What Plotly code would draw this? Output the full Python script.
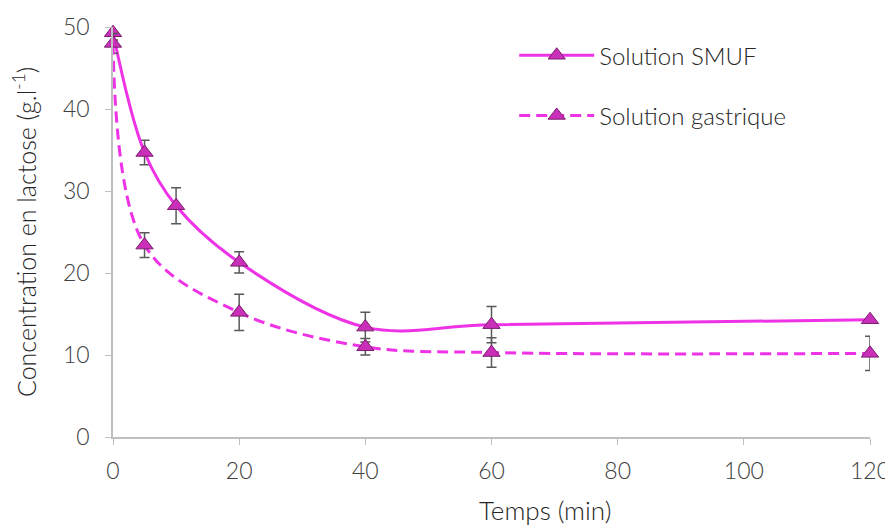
import plotly.graph_objects as go

time_min = [0, 5, 10, 20, 40, 60, 120]
smuf = [49.3, 34.7, 28.2, 21.3, 13.4, 13.7, 14.3]
smuf_err = [0.9, 1.5, 2.2, 1.3, 1.8, 2.2, 0.0]
gastric = [48.0, 23.4, None, 15.2, 11.0, 10.3, 10.2]
gastric_err = [1.2, 1.5, 0, 2.2, 1.0, 1.8, 2.1]

g_t = [t for t, v in zip(time_min, gastric) if v is not None]
g_v = [v for v in gastric if v is not None]
g_e = [e for e, v in zip(gastric_err, gastric) if v is not None]

x_title = "Temps (min)"
y_title = "Concentration en lactose (g.l<sup>-1</sup>)"

line_col = "#EE33E6"
mk_fill = "#C92FB9"
mk_line = "#7A1F6E"
err_col = "#595959"
font_fam = "Lato, 'Open Sans', sans-serif"

fig = go.Figure()
fig.add_trace(go.Scatter(
    x=time_min, y=smuf, name="Solution SMUF", mode="lines+markers",
    line=dict(color=line_col, width=3, shape="spline", smoothing=1.0),
    marker=dict(symbol="triangle-up", size=15, color=mk_fill,
                line=dict(color=mk_line, width=1)),
    error_y=dict(type="data", array=smuf_err, color=err_col, thickness=1.5, width=5),
    cliponaxis=False, legendgroup="a",
))
fig.add_trace(go.Scatter(
    x=g_t, y=g_v, name="Solution gastrique", mode="lines+markers",
    line=dict(color=line_col, width=3, shape="spline", smoothing=1.0, dash="11px,6px"),
    marker=dict(symbol="triangle-up", size=15, color=mk_fill,
                line=dict(color=mk_line, width=1)),
    error_y=dict(type="data", array=g_e, color=err_col, thickness=1.5, width=5),
    cliponaxis=False, legendgroup="b",
))

fig.update_layout(
    width=893, height=525,
    margin=dict(l=105, r=31, t=19, b=96, autoexpand=False),
    paper_bgcolor="white", plot_bgcolor="white",
    font=dict(family=font_fam, size=23, color="#404040", weight=300),
    legend=dict(x=0.53, y=0.985, xanchor="left", yanchor="top",
                font=dict(size=24, color="#262626", weight=300), tracegroupgap=26,
                itemwidth=75, bgcolor="rgba(0,0,0,0)"),
    xaxis=dict(range=[0, 120], tickvals=[0, 20, 40, 60, 80, 100, 120],
               showgrid=False, zeroline=False, showline=True, linecolor="#BFBFBF",
               linewidth=1.5, ticks="outside", ticklen=6, tickcolor="#BFBFBF",
               automargin=False, ticklabelstandoff=7,
               tickfont=dict(size=23, color="#404040", weight=300)),
    yaxis=dict(range=[0, 50], tickvals=[0, 10, 20, 30, 40, 50],
               showgrid=False, zeroline=False, showline=True, linecolor="#BFBFBF",
               linewidth=1.5, ticks="outside", ticklen=6, tickcolor="#BFBFBF",
               automargin=False, ticklabelstandoff=11,
               tickfont=dict(size=23, color="#404040", weight=300)),
    annotations=[
        dict(text=x_title, xref="paper", yref="paper", x=0.571, y=0,
             xanchor="center", yanchor="middle", yshift=-73, showarrow=False,
             font=dict(size=26, color="#262626", weight=300)),
        dict(text=y_title, xref="paper", yref="paper", x=0, y=0.5,
             xanchor="center", yanchor="middle", xshift=-89, textangle=-90,
             showarrow=False, font=dict(size=25, color="#262626", weight=300)),
    ],
)

fig.write_html("out.html")
